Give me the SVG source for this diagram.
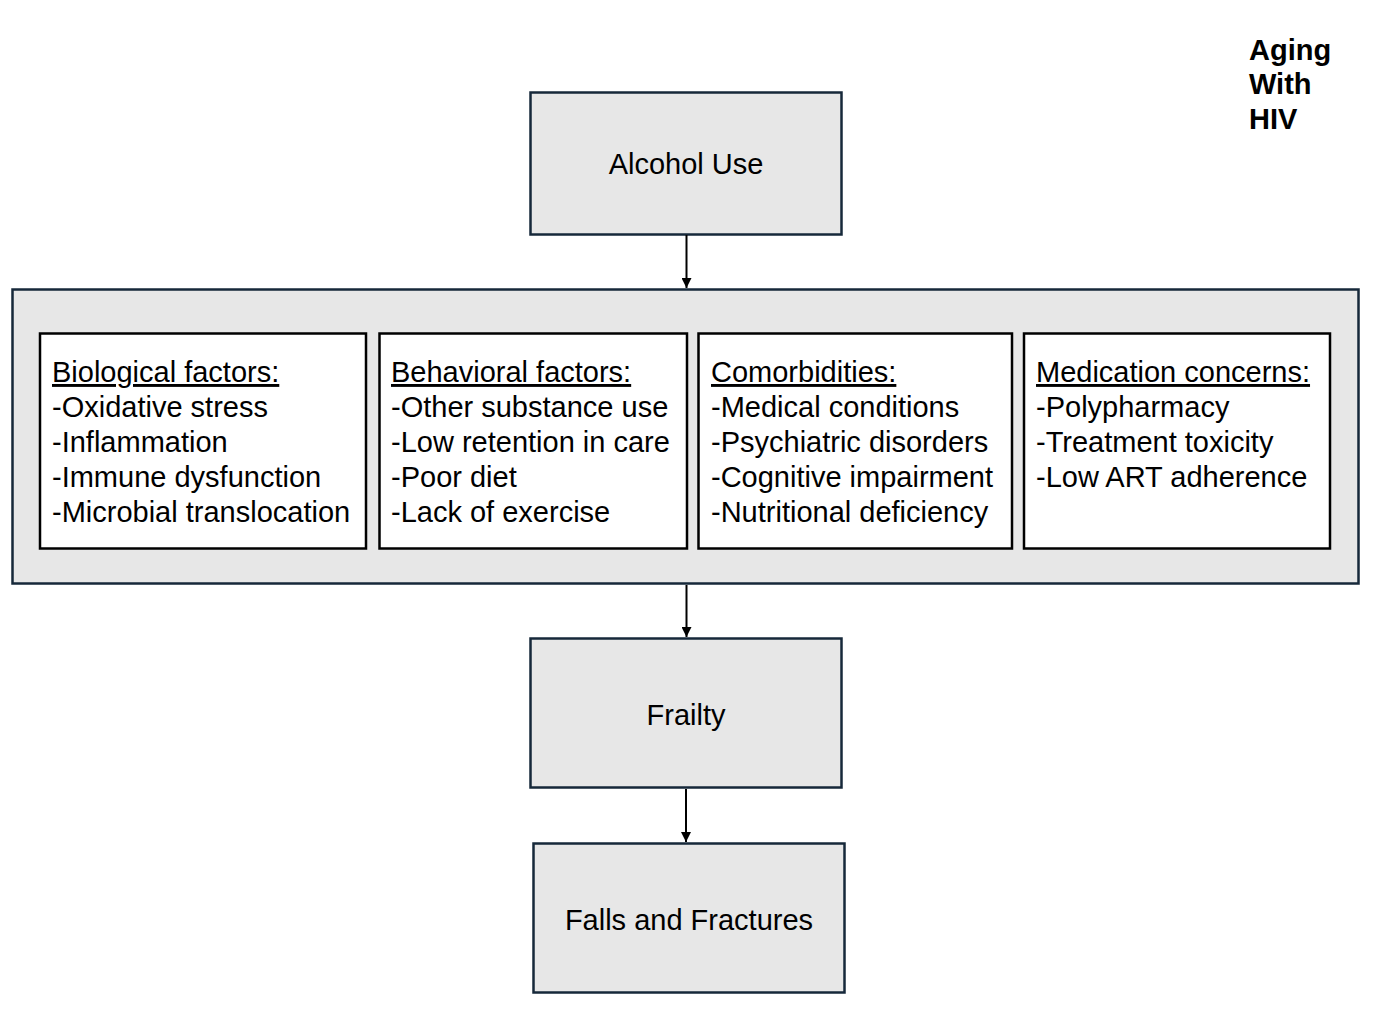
<svg xmlns="http://www.w3.org/2000/svg" width="1377" height="1030" viewBox="0 0 1377 1030">
<style>
text{font-family:"Liberation Sans",Arial,sans-serif;font-size:29px;fill:#000}
.gbox{fill:#e7e7e7;stroke:#16283a;stroke-width:2.5}
.wbox{fill:#fff;stroke:#000;stroke-width:2.5}
.c{text-anchor:middle}
.h{text-decoration:underline}
.b{font-weight:bold}
.conn{stroke:#000;stroke-width:2;fill:none}
</style>
<defs>
<marker id="ah" viewBox="0 0 10 10" refX="10" refY="5" markerWidth="10" markerHeight="10" markerUnits="userSpaceOnUse" orient="auto">
<path d="M0,0 L10,5 L0,10 z" fill="#000"/>
</marker>
</defs>
<rect width="1377" height="1030" fill="#fff"/>
<g id="title">
<text class="b" x="1249" y="60">Aging</text>
<text class="b" x="1249" y="94">With</text>
<text class="b" x="1249" y="129">HIV</text>
</g>
<g id="alcohol">
<rect class="gbox" x="530.5" y="92.5" width="311" height="142"/>
<text class="c" x="686" y="174">Alcohol Use</text>
</g>
<g id="factors">
<rect class="gbox" x="12.5" y="289.5" width="1346" height="294"/>
</g>
<g id="biological">
<rect class="wbox" x="40" y="333.5" width="326" height="215"/>
<text x="52" y="382" class="h">Biological factors:</text>
<text x="52" y="417">-Oxidative stress</text>
<text x="52" y="452">-Inflammation</text>
<text x="52" y="487">-Immune dysfunction</text>
<text x="52" y="522">-Microbial translocation</text>
</g>
<g id="behavioral">
<rect class="wbox" x="379.5" y="333.5" width="307.5" height="215"/>
<text x="391" y="382" class="h">Behavioral factors:</text>
<text x="391" y="417">-Other substance use</text>
<text x="391" y="452">-Low retention in care</text>
<text x="391" y="487">-Poor diet</text>
<text x="391" y="522">-Lack of exercise</text>
</g>
<g id="comorbidities">
<rect class="wbox" x="698.5" y="333.5" width="313.5" height="215"/>
<text x="711" y="382" class="h">Comorbidities:</text>
<text x="711" y="417">-Medical conditions</text>
<text x="711" y="452">-Psychiatric disorders</text>
<text x="711" y="487">-Cognitive impairment</text>
<text x="711" y="522">-Nutritional deficiency</text>
</g>
<g id="medication">
<rect class="wbox" x="1024" y="333.5" width="306" height="215"/>
<text x="1036" y="382" class="h">Medication concerns:</text>
<text x="1036" y="417">-Polypharmacy</text>
<text x="1036" y="452">-Treatment toxicity</text>
<text x="1036" y="487">-Low ART adherence</text>
</g>
<g id="frailty">
<rect class="gbox" x="530.5" y="638.5" width="311" height="149"/>
<text class="c" x="686" y="725">Frailty</text>
</g>
<g id="falls">
<rect class="gbox" x="533.5" y="843.5" width="311" height="149"/>
<text class="c" x="689" y="930">Falls and Fractures</text>
</g>
<g id="connectors">
<line class="conn" x1="686.5" y1="235" x2="686.5" y2="288" marker-end="url(#ah)"/>
<line class="conn" x1="686.5" y1="585" x2="686.5" y2="637" marker-end="url(#ah)"/>
<line class="conn" x1="686" y1="789" x2="686" y2="842" marker-end="url(#ah)"/>
</g>
</svg>
